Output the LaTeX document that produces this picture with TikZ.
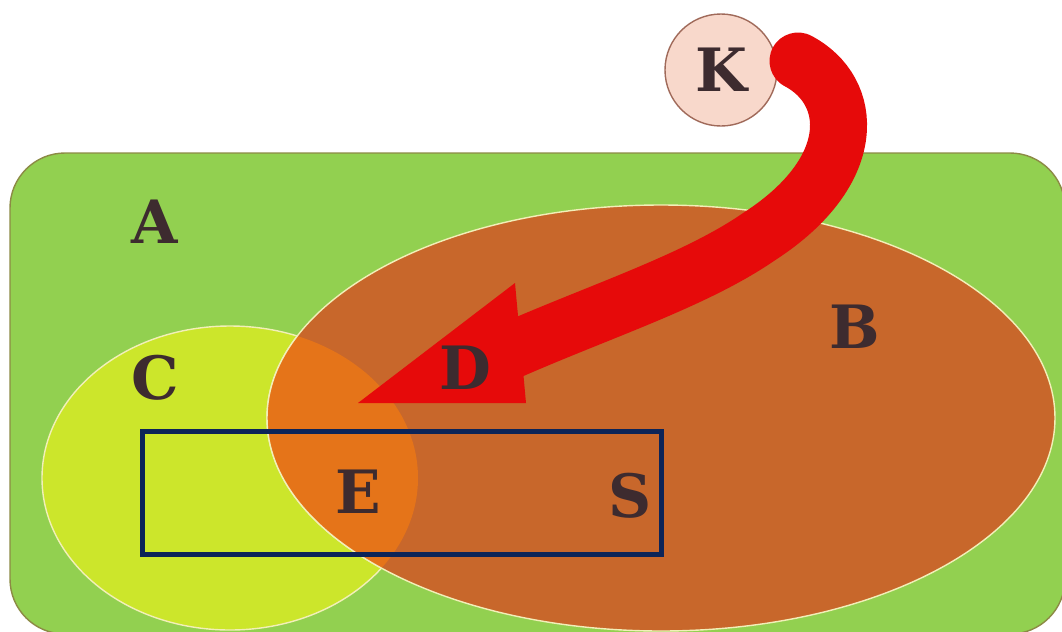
\documentclass[tikz,border=0pt]{standalone}
\usepackage{fontspec}
\setmainfont{DejaVu Serif}

\definecolor{setgreen}{HTML}{92D050}
\definecolor{setedge}{HTML}{8C8A45}
\definecolor{setyellow}{HTML}{CCE62B}
\definecolor{setbrown}{HTML}{C8672B}
\definecolor{setorange}{HTML}{E57419}
\definecolor{rimcream}{HTML}{F2EFB8}
\definecolor{boxnavy}{HTML}{0C2458}
\definecolor{arrowred}{HTML}{E60A0A}
\definecolor{kpink}{HTML}{F8D8CB}
\definecolor{kedge}{HTML}{A06A5A}
\definecolor{labelbrown}{HTML}{3D2B2F}

\tikzset{setlabel/.style={text=labelbrown,font=\fontsize{17}{17}\selectfont\bfseries}}

\begin{document}
\begin{tikzpicture}
	\useasboundingbox (0,0) rectangle (10.62,6.31);
	\clip (0,0) rectangle (10.62,6.31);
	% universe A
	\draw[draw=setedge,fill=setgreen,rounded corners=0.55cm] (0.10,-0.03) rectangle (10.65,4.78);
	% sets C and B
	\draw[draw=rimcream,fill=setyellow] (2.30,1.53) ellipse [x radius=1.88,y radius=1.52];
	\draw[draw=rimcream,fill=setbrown] (6.61,2.13) ellipse [x radius=3.94,y radius=2.13];
	\begin{scope}
		\clip (2.30,1.53) ellipse [x radius=1.88,y radius=1.52];
		\draw[draw=rimcream,fill=setorange] (6.61,2.13) ellipse [x radius=3.94,y radius=2.13];
	\end{scope}
	% set S
	\draw[draw=boxnavy,line width=0.05cm] (1.42,0.77) rectangle (6.61,2.00);
	\node[circle,draw=kedge,fill=kpink,minimum size=1.12cm,inner sep=0pt,setlabel](K) at (7.21,5.61) {K};
	% arrow from K
	\coordinate (start) at (7.98,5.70);
	\coordinate (base) at (5.05,2.78);
	\coordinate (tip) at (3.58,2.28);
	\coordinate (headtop) at (5.15,3.48);
	\coordinate (headbot) at (5.26,2.28);
	\draw[arrowred,line width=0.57cm,line cap=round]
		(start) .. controls (8.55,5.40) and (8.60,4.60) .. (7.60,3.95)
		.. controls (6.95,3.50) and (6.00,3.20) .. (base);
	\fill[arrowred] (tip) -- (headtop) -- (headbot) -- cycle;
	\node[setlabel](A) at (1.55,4.09) {A};
	\node[setlabel](B) at (8.55,3.04) {B};
	\node[setlabel](C) at (1.55,2.53) {C};
	\node[setlabel](D) at (4.65,2.63) {D};
	\node[setlabel](E) at (3.58,1.39) {E};
	\node[setlabel](S) at (6.30,1.35) {S};
\end{tikzpicture}
\end{document}
